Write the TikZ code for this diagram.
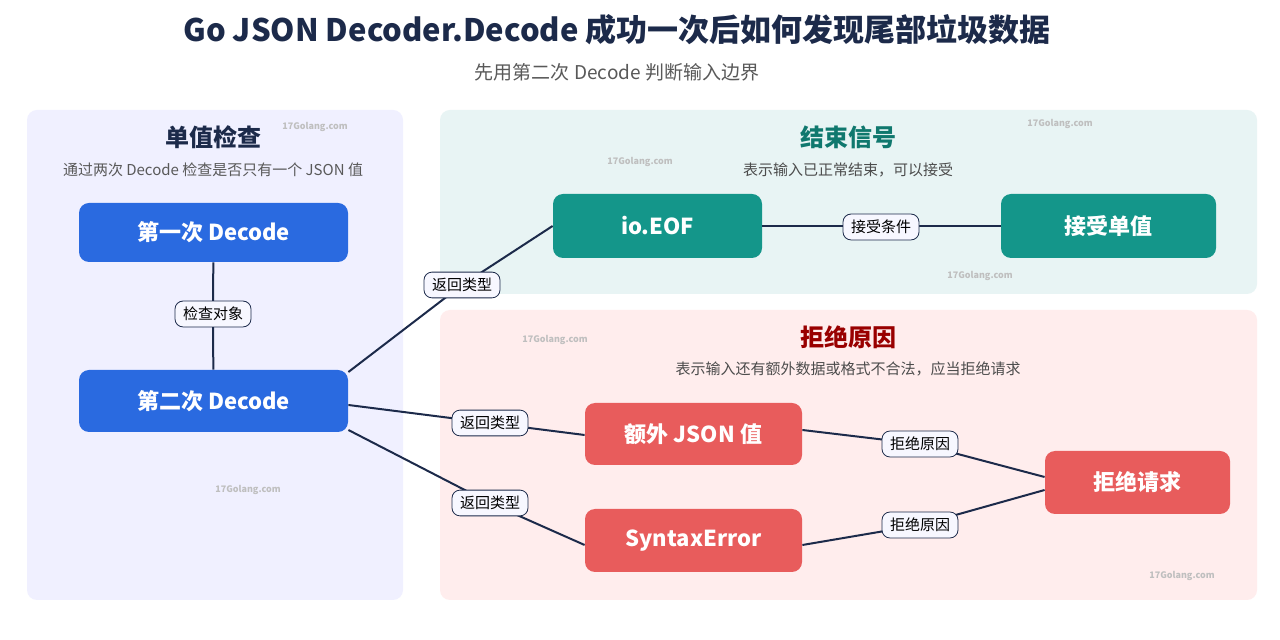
\documentclass[tikz,border=0pt]{standalone}
\usepackage{fontspec}
\setmainfont{Noto Sans CJK SC}
\begin{document}
\begin{tikzpicture}[x=0.5pt,y=-0.5pt,
 panel/.style={rounded corners=5pt,draw=none},
 box/.style={rounded corners=5pt,text=white,font=\fontsize{11}{13}\selectfont\bfseries,inner sep=0},
 lab/.style={draw=navy,fill=blue!3,rounded corners=4pt,font=\fontsize{7.5}{9}\selectfont,inner xsep=4pt,inner ysep=3pt},
 ln/.style={draw=navy,line width=1pt},
 wm/.style={text=black!25,font=\fontsize{4.5}{5}\selectfont\bfseries}]
\definecolor{navy}{HTML}{1C2A4A}
\definecolor{bl}{HTML}{2A6AE0}
\definecolor{tl}{HTML}{14968A}
\definecolor{rd}{HTML}{E85C5C}
\useasboundingbox (0,0) rectangle (1280,640);
\fill[white] (0,0) rectangle (1280,640);
\node[font=\fontsize{15.5}{18}\selectfont\bfseries,text=navy] (t) at (617,30) {Go JSON Decoder.Decode 成功一次后如何发现尾部垃圾数据};
\node[font=\fontsize{9.5}{11}\selectfont,text=black!65] (st) at (617,72) {先用第二次 Decode 判断输入边界};
\fill[panel,fill=blue!6] (27,110) rectangle (403,600);
\fill[panel,fill=teal!9] (440,110) rectangle (1257,294);
\fill[panel,fill=red!7] (440,310) rectangle (1257,600);
\node[font=\fontsize{12}{14}\selectfont\bfseries,text=navy] (h1) at (213,137) {单值检查};
\node[font=\fontsize{7.5}{9}\selectfont,text=black!65] (s1) at (213,170) {通过两次 Decode 检查是否只有一个 JSON 值};
\node[font=\fontsize{12}{14}\selectfont\bfseries,text=tl!80!black] (h2) at (848,137) {结束信号};
\node[font=\fontsize{7.5}{9}\selectfont,text=black!70] (s2) at (848,170) {表示输入已正常结束，可以接受};
\node[font=\fontsize{12}{14}\selectfont\bfseries,text=red!60!black] (h3) at (848,337) {拒绝原因};
\node[font=\fontsize{7.5}{9}\selectfont,text=black!70] (s3) at (848,369) {表示输入还有额外数据或格式不合法，应当拒绝请求};
\foreach \x/\y in {315/127,640/162,1060/124,980/276,555/340,290/384,248/490,1182/576}
  \node[wm] at (\x,\y) {17Golang.com};
\node[box,fill=bl,minimum width=134.5pt,minimum height=29.5pt] (d1) at (213.5,232.5) {第一次 Decode};
\node[box,fill=bl,minimum width=134.5pt,minimum height=31pt] (d2) at (213.5,401) {第二次 Decode};
\node[box,fill=tl,minimum width=104.5pt,minimum height=32pt] (eof) at (657.5,226) {io.EOF};
\node[box,fill=tl,minimum width=107.5pt,minimum height=32pt] (acc) at (1108.5,226) {接受单值};
\node[box,fill=rd,minimum width=108.5pt,minimum height=31pt] (ex) at (693.5,434) {额外 JSON 值};
\node[box,fill=rd,minimum width=108.5pt,minimum height=31.5pt] (se) at (693.5,540.5) {SyntaxError};
\node[box,fill=rd,minimum width=92.5pt,minimum height=31.5pt] (rj) at (1137.5,482.5) {拒绝请求};
\draw[ln] (d1) -- (213,314) -- (d2);
\draw[ln] (d2.east|-0,372) -- (462,285) -- (eof.west);
\draw[ln] (eof) -- (acc);
\draw[ln] (d2.east|-0,405) -- (490,423) -- (ex.west|-0,435);
\draw[ln] (d2.east|-0,430) -- (490,503) -- (se.west|-0,545);
\draw[ln] (ex.east|-0,430) -- (920,444) -- (rj.west|-0,477);
\draw[ln] (se.east|-0,545) -- (920,525) -- (rj.west|-0,490);
\node[lab] (l0) at (213,314) {检查对象};
\node[lab] (l1) at (462,285) {返回类型};
\node[lab] (l2) at (881,227) {接受条件};
\node[lab] (l3) at (490,423) {返回类型};
\node[lab] (l4) at (490,503) {返回类型};
\node[lab] (l5) at (920,444) {拒绝原因};
\node[lab] (l6) at (920,525) {拒绝原因};
\end{tikzpicture}
\end{document}
